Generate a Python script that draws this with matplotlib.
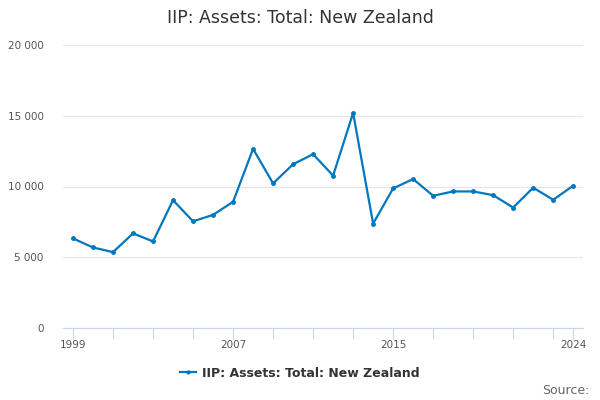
import matplotlib
matplotlib.use("Agg")
import matplotlib.pyplot as plt
from matplotlib.ticker import FuncFormatter

years = list(range(1999, 2025))
values = [6330, 5690, 5363, 6686, 6117, 9033, 7539, 7994, 8919, 12660,
          10220, 11572, 12283, 10768, 15199, 7375, 9865, 10526, 9346, 9651,
          9651, 9388, 8514, 9915, 9061, 10057]
label_years = [1999, 2007, 2015, 2024]
tick_years = list(range(1999, 2024, 2)) + [2024]
yticks = [0, 5000, 10000, 15000, 20000]
series_name = "IIP: Assets: Total: New Zealand"

plt.rcParams['font.family'] = ['DejaVu Sans']
fig = plt.figure(figsize=(6, 4), dpi=100)
ax = fig.add_axes([0.105, 0.18, 0.867, 0.7075])
color = "#0077BE"
ax.plot(years, values, color=color, lw=1.6, marker='o', ms=2.5, label=series_name)
ax.set_xlim(1998.5, 2024.5)
ax.set_ylim(0, 20000)
ax.set_yticks(yticks)
ax.yaxis.set_major_formatter(FuncFormatter(lambda v, p: f"{int(v):,}".replace(",", " ")))
ax.set_xticks(tick_years)
ax.set_xticklabels([str(y) if y in label_years else "" for y in tick_years])
ax.grid(axis='y', color='#e6e6e6', lw=0.8)
ax.set_axisbelow(True)
for s in ['top', 'right', 'left']:
    ax.spines[s].set_visible(False)
ax.spines['bottom'].set_color('#ccd6eb')
ax.tick_params(axis='x', length=8, color='#ccd6eb', labelsize=7.5, labelcolor='#555555', pad=1)
ax.tick_params(axis='y', length=0, labelsize=7.5, labelcolor='#555555', pad=14)
fig.text(0.5, 0.955, series_name, ha='center', va='center', fontsize=12.5, color='#333333')
leg = fig.legend(loc='center', bbox_to_anchor=(0.5, 0.067), frameon=False,
                 prop={'weight': 'bold', 'size': 9}, handlelength=1.3, handletextpad=0.5,
                 markerscale=0.8)
for t in leg.get_texts():
    t.set_color('#333333')
fig.text(0.982, 0.025, "Source:", ha='right', va='center', fontsize=9, color='#666666')
fig.savefig("out.png", dpi=100)
